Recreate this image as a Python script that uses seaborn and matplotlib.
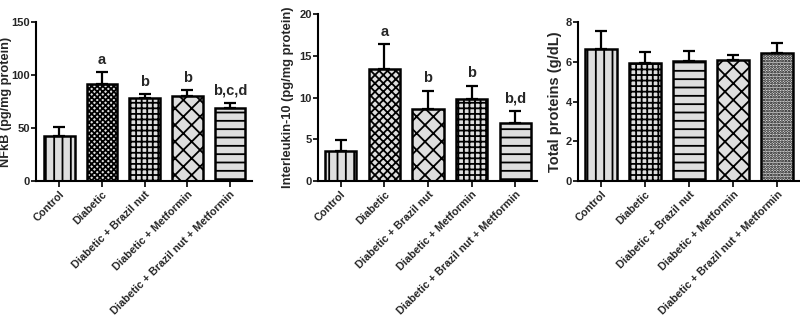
import matplotlib
matplotlib.use("Agg")
import matplotlib.pyplot as plt
import seaborn as sns
import numpy as np

sns.set_style("ticks")
plt.rcParams['font.family'] = ['Liberation Sans', 'DejaVu Sans']
plt.rcParams['font.weight'] = 'bold'
plt.rcParams['hatch.linewidth'] = 1.3
plt.rcParams['hatch.color'] = 'black'

groups = ["Control", "Diabetic", "Diabetic + Brazil nut", "Diabetic + Metformin",
          "Diabetic + Brazil nut + Metformin"]

nfkb = [42.5, 91.5, 78.5, 80.0, 68.5]
nfkb_err = [8.3, 11.0, 3.2, 5.8, 5.5]
nfkb_letters = ["", "a", "b", "b", "b,c,d"]

il10 = [3.6, 13.4, 8.6, 9.8, 7.0]
il10_err = [1.3, 3.0, 2.2, 1.6, 1.4]
il10_letters = ["", "a", "b", "b", "b,d"]

tprot = [6.66, 5.93, 6.05, 6.10, 6.44]
tprot_err = [0.87, 0.56, 0.50, 0.25, 0.52]
tprot_letters = ["", "", "", "", ""]

panels = [
    dict(vals=nfkb, err=nfkb_err, letters=nfkb_letters, ylabel="NFkB (pg/mg protein)",
         ylim=150, yticks=[0, 50, 100, 150], hatches=['||', 'xxxxxx', '+++', 'xx', '--'],
         pos=[0.045, 0.458, 0.27, 0.476], xlim=(-0.55, 4.52), lfs=9.2, lx=-0.112),
    dict(vals=il10, err=il10_err, letters=il10_letters, ylabel="Interleukin-10 (pg/mg protein)",
         ylim=20, yticks=[0, 5, 10, 15, 20], hatches=['||', 'xxxx', 'xx', '+++', '--'],
         pos=[0.3975, 0.458, 0.274, 0.50], xlim=(-0.52, 4.5), lfs=9.3, lx=-0.11),
    dict(vals=tprot, err=tprot_err, letters=tprot_letters, ylabel="Total proteins (g/dL)",
         ylim=8, yticks=[0, 2, 4, 6, 8], hatches=['||', '+++', '--', 'xx', '......'],
         pos=[0.7225, 0.458, 0.2775, 0.476], xlim=(-0.52, 4.52), lfs=10.5, lx=-0.072),
]

fig = plt.figure(figsize=(8, 3.34), dpi=100)

for p in panels:
    ax = fig.add_axes(p['pos'])
    sns.barplot(x=groups, y=p['vals'], ax=ax, color='#dedede', saturation=1,
                edgecolor='black', linewidth=1.8, width=0.72, errorbar=None)
    for patch, h in zip(ax.patches, p['hatches']):
        patch.set_hatch(h)
    x = np.arange(len(groups))
    ax.errorbar(x, p['vals'], yerr=[np.zeros(len(x)), p['err']], fmt='none',
                ecolor='black', elinewidth=1.6, capsize=4.5, capthick=1.6, zorder=1)
    for xi, v, e, t in zip(x, p['vals'], p['err'], p['letters']):
        if t:
            ax.annotate(t, (xi, v + e), xytext=(0, 4), textcoords='offset points',
                        ha='center', va='bottom', fontsize=10.5, fontweight='bold')
    ax.set_ylim(0, p['ylim'])
    ax.set_yticks(p['yticks'])
    ax.set_xlim(*p['xlim'])
    ax.set_ylabel(p['ylabel'], fontsize=p['lfs'], fontweight='bold')
    ax.yaxis.set_label_coords(p['lx'], 0.5)
    ax.set_xticks(x)
    ax.set_xticklabels(groups, rotation=45, ha='right', rotation_mode='anchor',
                       fontsize=7.8, fontweight='bold')
    ax.tick_params(axis='y', labelsize=8, width=1.4, length=3.5, pad=0.8)
    ax.tick_params(axis='x', width=1.4, length=4, pad=2)
    for lab in ax.get_yticklabels():
        lab.set_fontweight('bold')
    sns.despine(ax=ax)
    for s in ['left', 'bottom']:
        ax.spines[s].set_linewidth(1.5)
        ax.spines[s].set_color('black')

fig.savefig("out.png", dpi=100)
